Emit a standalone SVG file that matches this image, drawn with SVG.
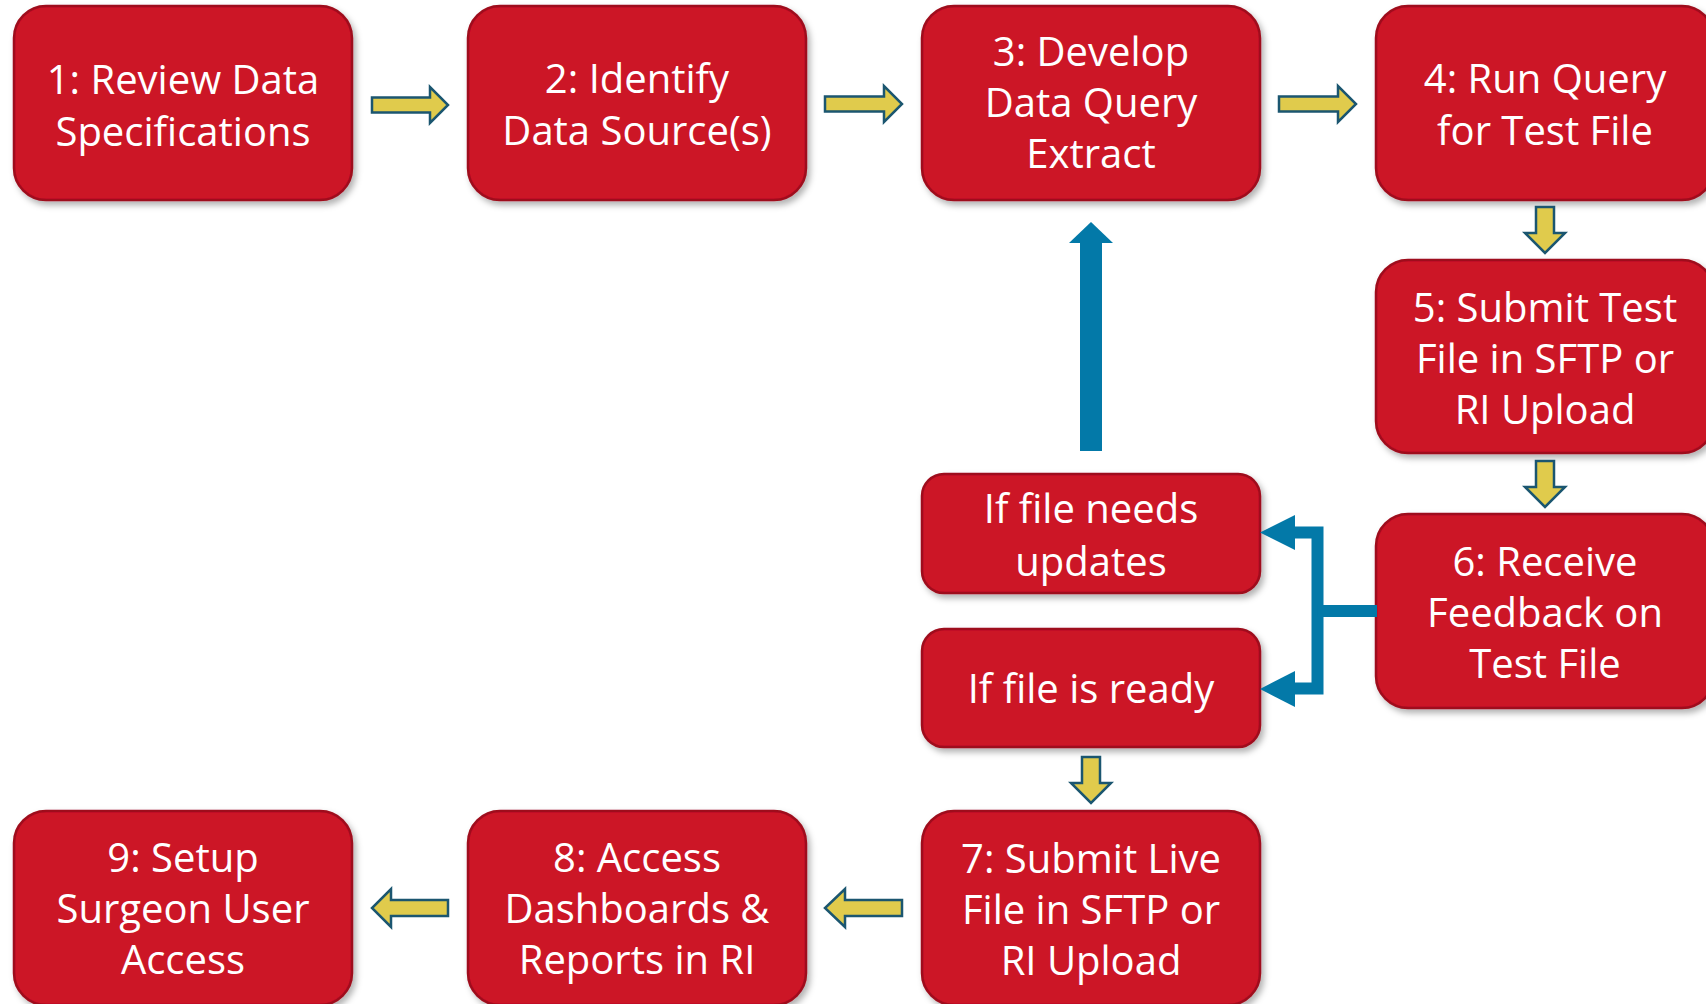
<svg xmlns="http://www.w3.org/2000/svg" width="1706" height="1004" viewBox="0 0 1706 1004">
<defs>
<filter id="sh" x="-10%" y="-10%" width="125%" height="130%">
<feDropShadow dx="3" dy="4" stdDeviation="3" flood-color="#000" flood-opacity="0.3"/>
</filter>
<style>
.box{fill:#CC1228;stroke:#9E0B1C;stroke-width:2.5;filter:url(#sh)}
.t{font-family:"Open Sans","Noto Sans","DejaVu Sans",sans-serif;font-size:40px;fill:#fff;text-anchor:middle}
.ya{fill:#E0CB4C;stroke:#1B5670;stroke-width:2.5;stroke-linejoin:miter}
.bl{fill:none;stroke:#0379A8;stroke-width:12;stroke-linejoin:miter}
.bh{fill:#0379A8}
</style>
</defs>
<rect width="1706" height="1004" fill="#fff"/>
<g id="n1"><rect class="box" x="14" y="6" width="338" height="194" rx="32"/><text class="t"><tspan x="183" y="94">1: Review Data</tspan><tspan x="183" y="146">Specifications</tspan></text></g>
<g id="n2"><rect class="box" x="468" y="6" width="338" height="194" rx="32"/><text class="t"><tspan x="637" y="93">2: Identify</tspan><tspan x="637" y="145">Data Source(s)</tspan></text></g>
<g id="n3"><rect class="box" x="922" y="6" width="338" height="194" rx="32"/><text class="t"><tspan x="1091" y="66">3: Develop</tspan><tspan x="1091" y="117">Data Query</tspan><tspan x="1091" y="168">Extract</tspan></text></g>
<g id="n4"><rect class="box" x="1376" y="6" width="338" height="194" rx="32"/><text class="t"><tspan x="1545" y="93">4: Run Query</tspan><tspan x="1545" y="145">for Test File</tspan></text></g>
<g id="n5"><rect class="box" x="1376" y="260" width="338" height="193" rx="32"/><text class="t"><tspan x="1545" y="322">5: Submit Test</tspan><tspan x="1545" y="373">File in SFTP or</tspan><tspan x="1545" y="424">RI Upload</tspan></text></g>
<g id="n6"><rect class="box" x="1376" y="514" width="338" height="194" rx="32"/><text class="t"><tspan x="1545" y="576">6: Receive</tspan><tspan x="1545" y="627">Feedback on</tspan><tspan x="1545" y="678">Test File</tspan></text></g>
<g id="nu"><rect class="box" x="922" y="474" width="338" height="119" rx="22"/><text class="t"><tspan x="1091" y="523">If file needs</tspan><tspan x="1091" y="576">updates</tspan></text></g>
<g id="nr"><rect class="box" x="922" y="629" width="338" height="118" rx="22"/><text class="t"><tspan x="1091" y="703">If file is ready</tspan></text></g>
<g id="n7"><rect class="box" x="922" y="811" width="338" height="194" rx="32"/><text class="t"><tspan x="1091" y="873">7: Submit Live</tspan><tspan x="1091" y="924">File in SFTP or</tspan><tspan x="1091" y="975">RI Upload</tspan></text></g>
<g id="n8"><rect class="box" x="468" y="811" width="338" height="194" rx="32"/><text class="t"><tspan x="637" y="872">8: Access</tspan><tspan x="637" y="923">Dashboards &amp;</tspan><tspan x="637" y="974">Reports in RI</tspan></text></g>
<g id="n9"><rect class="box" x="14" y="811" width="338" height="194" rx="32"/><text class="t"><tspan x="183" y="872">9: Setup</tspan><tspan x="183" y="923">Surgeon User</tspan><tspan x="183" y="974">Access</tspan></text></g>
<g id="connectors">
<polygon class="ya" points="372,97.5 430,97.5 430,87 448,105 430,123 430,112.5 372,112.5"/>
<polygon class="ya" points="825,96.5 884,96.5 884,86 902,104 884,122 884,111.5 825,111.5"/>
<polygon class="ya" points="1279,96.5 1338,96.5 1338,86 1356,104 1338,122 1338,111.5 1279,111.5"/>
<polygon class="ya" points="1536,207 1554,207 1554,233 1565,233 1545,253 1525,233 1536,233"/>
<polygon class="ya" points="1536,461 1554,461 1554,487 1565,487 1545,507 1525,487 1536,487"/>
<polygon class="ya" points="1082,757 1100,757 1100,783 1111,783 1091,803 1071,783 1082,783"/>
<polygon class="ya" points="902,900 845,900 845,889 825,908 845,927 845,916 902,916"/>
<polygon class="ya" points="448,900 391,900 391,889 372,908 391,927 391,916 448,916"/>
<rect class="bh" x="1080" y="242" width="22" height="209"/>
<polygon class="bh" points="1069,243 1091,222 1113,243"/>
<path class="bl" d="M1294 532.5 H1317.5 V688.5 H1294"/>
<path class="bl" d="M1317.5 611 H1377"/>
<polygon class="bh" points="1260,532.5 1295,515 1295,550"/>
<polygon class="bh" points="1260,689 1295,671 1295,707"/>
</g>
</svg>
